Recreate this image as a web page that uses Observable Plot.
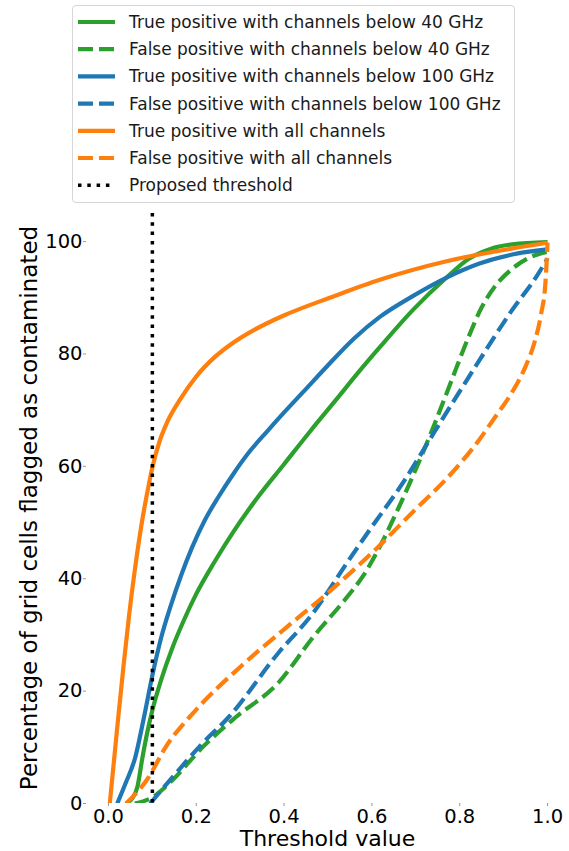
<!DOCTYPE html>
<html><head><meta charset="utf-8">
<script src="https://cdn.jsdelivr.net/npm/d3@7"></script>
<script src="https://cdn.jsdelivr.net/npm/@observablehq/plot@0.6"></script>
<style>
body{margin:0;background:#fff;font-family:"DejaVu Sans",sans-serif;width:569px;height:851px;overflow:hidden;position:relative}
#legend{position:absolute;left:72px;top:5px;width:443px;height:198px;box-sizing:border-box;border:1px solid #d6d6d6;border-radius:4px;background:#fff}
#chart{position:absolute;left:0;top:205px}
</style></head><body>
<div id="legend"></div><div id="chart"></div>
<script>
// ---- data ----
const labels = [
  "True positive with channels below 40 GHz",
  "False positive with channels below 40 GHz",
  "True positive with channels below 100 GHz",
  "False positive with channels below 100 GHz",
  "True positive with all channels",
  "False positive with all channels"
];
const colors = ["#2ca02c","#2ca02c","#1f77b4","#1f77b4","#ff7f0e","#ff7f0e"];
const dashed = [false,true,false,true,false,true];
const thresholdLabel = "Proposed threshold";
const threshold = 0.1;

const tp40x = [0.039,0.055,0.066,0.077,0.088,0.1,0.12,0.145,0.17,0.2,0.24,0.284,0.34,0.398,0.46,0.52,0.57,0.618,0.693,0.77,0.82,0.87,0.92,1.0];
const tp40y = [0,1,3,8,12.5,16.6,22,27.6,32.3,37.3,42.8,48.3,54.5,60.2,66.3,72,76.8,81.2,87.8,93.6,96.9,98.7,99.5,99.9];
const fp40x = [0.06,0.1,0.145,0.214,0.289,0.386,0.466,0.543,0.58,0.62,0.66,0.7,0.74,0.78,0.82,0.85,0.88,0.92,0.96,1.0];
const fp40y = [0,1.1,4.1,10,15.3,21.4,29.6,36.7,40.5,46,52.5,59.5,67,75,83,88.3,92,95.2,97.2,98.2];
const tp100x = [0.02,0.039,0.061,0.08,0.1,0.12,0.141,0.165,0.19,0.22,0.25,0.284,0.32,0.361,0.4,0.443,0.5,0.56,0.618,0.693,0.77,0.845,0.92,1.0];
const tp100y = [0,3.6,8.2,15,22.8,29.5,35,40.5,45.5,50.5,54.5,58.6,62.5,66.2,69.6,73.2,78,82.8,86.6,90.3,93.6,96.1,97.7,98.6];
const fp100x = [0.095,0.145,0.214,0.273,0.386,0.466,0.543,0.595,0.67,0.743,0.77,0.845,0.92,0.975,1.0];
const fp100y = [0,4.6,10.7,15.3,26.7,33.9,42.8,48.7,57,66.2,69.6,78.9,87.9,93.8,97.0];
const tpAllx = [0.003,0.02,0.035,0.047,0.06,0.075,0.09,0.1,0.117,0.134,0.164,0.2,0.24,0.284,0.33,0.398,0.511,0.618,0.77,0.92,1.0];
const tpAlly = [0,13.5,25,33.5,41.5,49.5,56,59.8,64.6,67.9,72,76,79.3,82,84.2,86.8,90.2,93.2,96.5,98.8,99.8];
const fpAllx = [0.04,0.09,0.13,0.2,0.3,0.4,0.5,0.6,0.7,0.77,0.845,0.88,0.92,0.95,0.97,0.985,0.995,1.0];
const fpAlly = [0,4.5,10,16.7,24.3,31,37.5,44.6,52.4,57.8,64.8,68.7,73.3,77.8,82,87,92.5,99.8];

const xTicks = [0,0.2,0.4,0.6,0.8,1.0];
const yTicks = [0,20,40,60,80,100];

const seriesX = [tp40x,fp40x,tp100x,fp100x,tpAllx,fpAllx];
const seriesY = [tp40y,fp40y,tp100y,fp100y,tpAlly,fpAlly];

const LW = 4.2, DASH = "15,6", DOT = "3.5,5.8";

// ---- legend ----
const lg = d3.select("#legend").append("svg").attr("width",441).attr("height",196);
const rows = labels.map((t,i)=>({t,c:colors[i],d:dashed[i]?DASH:null,w:LW})).concat([{t:thresholdLabel,c:"#000",d:DOT,w:3.5}]);
rows.forEach((r,i)=>{
  const y = 16 + 27.2*i;
  lg.append("line").attr("x1",5).attr("x2",42).attr("y1",y).attr("y2",y)
    .attr("stroke",r.c).attr("stroke-width",r.w).attr("stroke-dasharray",r.d);
  lg.append("text").attr("x",56).attr("y",y).attr("dy","0.35em")
    .attr("font-family","DejaVu Sans").attr("font-size",17).attr("fill","#1a1a1a").text(r.t);
});

// ---- chart ----
const lineMarks = seriesX.map((xs,i)=>Plot.line(xs.map((x,j)=>({x,y:seriesY[i][j]})),{
  x:"x",y:"y",stroke:colors[i],strokeWidth:LW,curve:"monotone-x",clip:true,
  strokeDasharray:dashed[i]?DASH:null, strokeLinecap:"butt"
}));

const chart = Plot.plot({
  width:569, height:646, marginLeft:86, marginRight:0, marginTop:8, marginBottom:48,
  style:{fontFamily:"DejaVu Sans", fontSize:"19.5px", color:"#000", background:"#fff"},
  x:{domain:[-0.05,1.05], ticks:xTicks, tickFormat:d3.format(".1f"), label:null, tickSize:3, tickPadding:3},
  y:{domain:[0,105], ticks:yTicks, label:null, tickSize:3, tickPadding:1},
  marks:[
    ...lineMarks,
    Plot.ruleX([threshold],{stroke:"#000",strokeWidth:3.5,strokeDasharray:DOT})
  ]
});
document.getElementById("chart").appendChild(chart);
const svg = d3.select(chart);
svg.selectAll("[aria-label='x-axis tick'], [aria-label='y-axis tick']").attr("stroke","#999");
const xs = chart.scale("x"), ys = chart.scale("y");
svg.append("text").attr("x",(xs.range[0]+xs.range[1])/2).attr("y",641)
  .attr("text-anchor","middle").attr("font-family","DejaVu Sans").attr("font-size",22).attr("fill","#000")
  .text("Threshold value");
svg.append("text").attr("transform",`translate(37,${(ys.range[0]+ys.range[1])/2}) rotate(-90)`)
  .attr("text-anchor","middle").attr("font-family","DejaVu Sans").attr("font-size",23).attr("fill","#000")
  .text("Percentage of grid cells flagged as contaminated");
</script>
</body></html>
